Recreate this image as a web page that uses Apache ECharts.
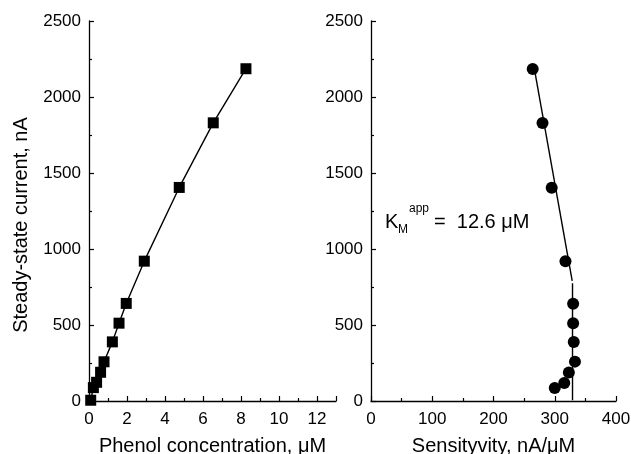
<!DOCTYPE html>
<html><head><meta charset="utf-8">
<script src="https://cdn.jsdelivr.net/npm/echarts@6/dist/echarts.min.js"></script>
<style>html,body{margin:0;padding:0;background:#fff}#c{width:631px;height:454px}</style>
</head><body><div id="c"></div>
<script>
// Left panel: calibration curve
const concentration = [0.09, 0.23, 0.40, 0.61, 0.79, 1.23, 1.58, 1.96, 2.91, 4.75, 6.54, 8.26];
const currentLeft   = [5, 88, 123, 189, 258, 389, 512, 642, 920, 1405, 1830, 2186];
// Right panel: sensitivity vs current
const sensitivity   = [300, 315.5, 323, 333, 331, 330, 330, 317.5, 295, 280, 264];
const currentRight  = [85, 119, 188, 259, 388, 511, 640, 919, 1403, 1829, 2184];
// Fitted lines on right panel
const fitSlopedS = [266.5, 328.5];
const fitSlopedI = [2190, 790];
const fitVertS = [329, 329];
const fitVertI = [775, 5];
const leftXTicks = {min: 0, max: 13, interval: 2};
const rightXTicks = {min: 0, max: 400, interval: 100};
const yTicks = {min: 0, max: 2500, interval: 500};

const FONT = '"Liberation Sans", Arial, sans-serif';
const zip = (a, b) => a.map((v, i) => [v, b[i]]);
const plain = v => String(v);
const axisCommon = {
  axisLine: {show: true, onZero: false, lineStyle: {color: '#000', width: 1.3}},
  axisTick: {show: true, inside: true, length: 5, lineStyle: {color: '#000', width: 1.2}},
  minorTick: {show: true, splitNumber: 2, length: 3, lineStyle: {color: '#000', width: 1.2}},
  splitLine: {show: false}
};
const yLabel = {color: '#000', fontSize: 17, fontFamily: FONT, margin: 8, formatter: plain};
const xLabel = {color: '#000', fontSize: 17, fontFamily: FONT, margin: 10, formatter: plain};
const chart = echarts.init(document.getElementById('c'), null, {renderer: 'canvas'});
chart.setOption({
  animation: false,
  backgroundColor: '#fff',
  grid: [
    {left: 89, top: 21, width: 247, height: 380, containLabel: false, outerBoundsMode: 'none'},
    {left: 371, top: 21, width: 245, height: 380, containLabel: false, outerBoundsMode: 'none'}
  ],
  xAxis: [
    Object.assign({}, axisCommon, {type: 'value', gridIndex: 0, min: leftXTicks.min, max: leftXTicks.max, interval: leftXTicks.interval,
      axisLabel: Object.assign({}, xLabel, {showMaxLabel: false}),
      name: 'Phenol concentration, μM', nameLocation: 'middle', nameGap: 35,
      nameTextStyle: {color: '#000', fontSize: 20, fontFamily: FONT}}),
    Object.assign({}, axisCommon, {type: 'value', gridIndex: 1, min: rightXTicks.min, max: rightXTicks.max, interval: rightXTicks.interval,
      axisLabel: xLabel,
      name: 'Sensityvity, nA/μM', nameLocation: 'middle', nameGap: 35,
      nameTextStyle: {color: '#000', fontSize: 20, fontFamily: FONT}})
  ],
  yAxis: [
    Object.assign({}, axisCommon, {type: 'value', gridIndex: 0, min: yTicks.min, max: yTicks.max, interval: yTicks.interval,
      axisLabel: yLabel,
      name: 'Steady-state current, nA', nameLocation: 'middle', nameGap: 58,
      nameTextStyle: {color: '#000', fontSize: 20, fontFamily: FONT, padding: [0, 28, 0, 0]}}),
    Object.assign({}, axisCommon, {type: 'value', gridIndex: 1, min: yTicks.min, max: yTicks.max, interval: yTicks.interval,
      axisLabel: yLabel})
  ],
  graphic: [
    {type: 'text', left: 385, top: 212, style: {text: 'K', fontSize: 20, fontFamily: FONT, fill: '#000'}},
    {type: 'text', left: 398, top: 224, style: {text: 'M', fontSize: 12, fontFamily: FONT, fill: '#000'}},
    {type: 'text', left: 409, top: 203, style: {text: 'app', fontSize: 12, fontFamily: FONT, fill: '#000'}},
    {type: 'text', left: 434, top: 212, style: {text: '=  12.6 μM', fontSize: 20, fontFamily: FONT, fill: '#000'}}
  ],
  series: [
    {type: 'line', xAxisIndex: 0, yAxisIndex: 0, data: zip(concentration, currentLeft),
      symbol: 'rect', symbolSize: 11, itemStyle: {color: '#000', opacity: 1}, lineStyle: {color: '#000', width: 1.4}, z: 3},
    {type: 'line', xAxisIndex: 1, yAxisIndex: 1, data: zip(fitSlopedS, fitSlopedI),
      symbol: 'none', lineStyle: {color: '#000', width: 1.4}, z: 2},
    {type: 'line', xAxisIndex: 1, yAxisIndex: 1, data: zip(fitVertS, fitVertI),
      symbol: 'none', lineStyle: {color: '#000', width: 1.4}, z: 2},
    {type: 'scatter', xAxisIndex: 1, yAxisIndex: 1, data: zip(sensitivity, currentRight),
      symbol: 'circle', symbolSize: 12, itemStyle: {color: '#000', opacity: 1}, z: 4}
  ]
});
</script></body></html>
